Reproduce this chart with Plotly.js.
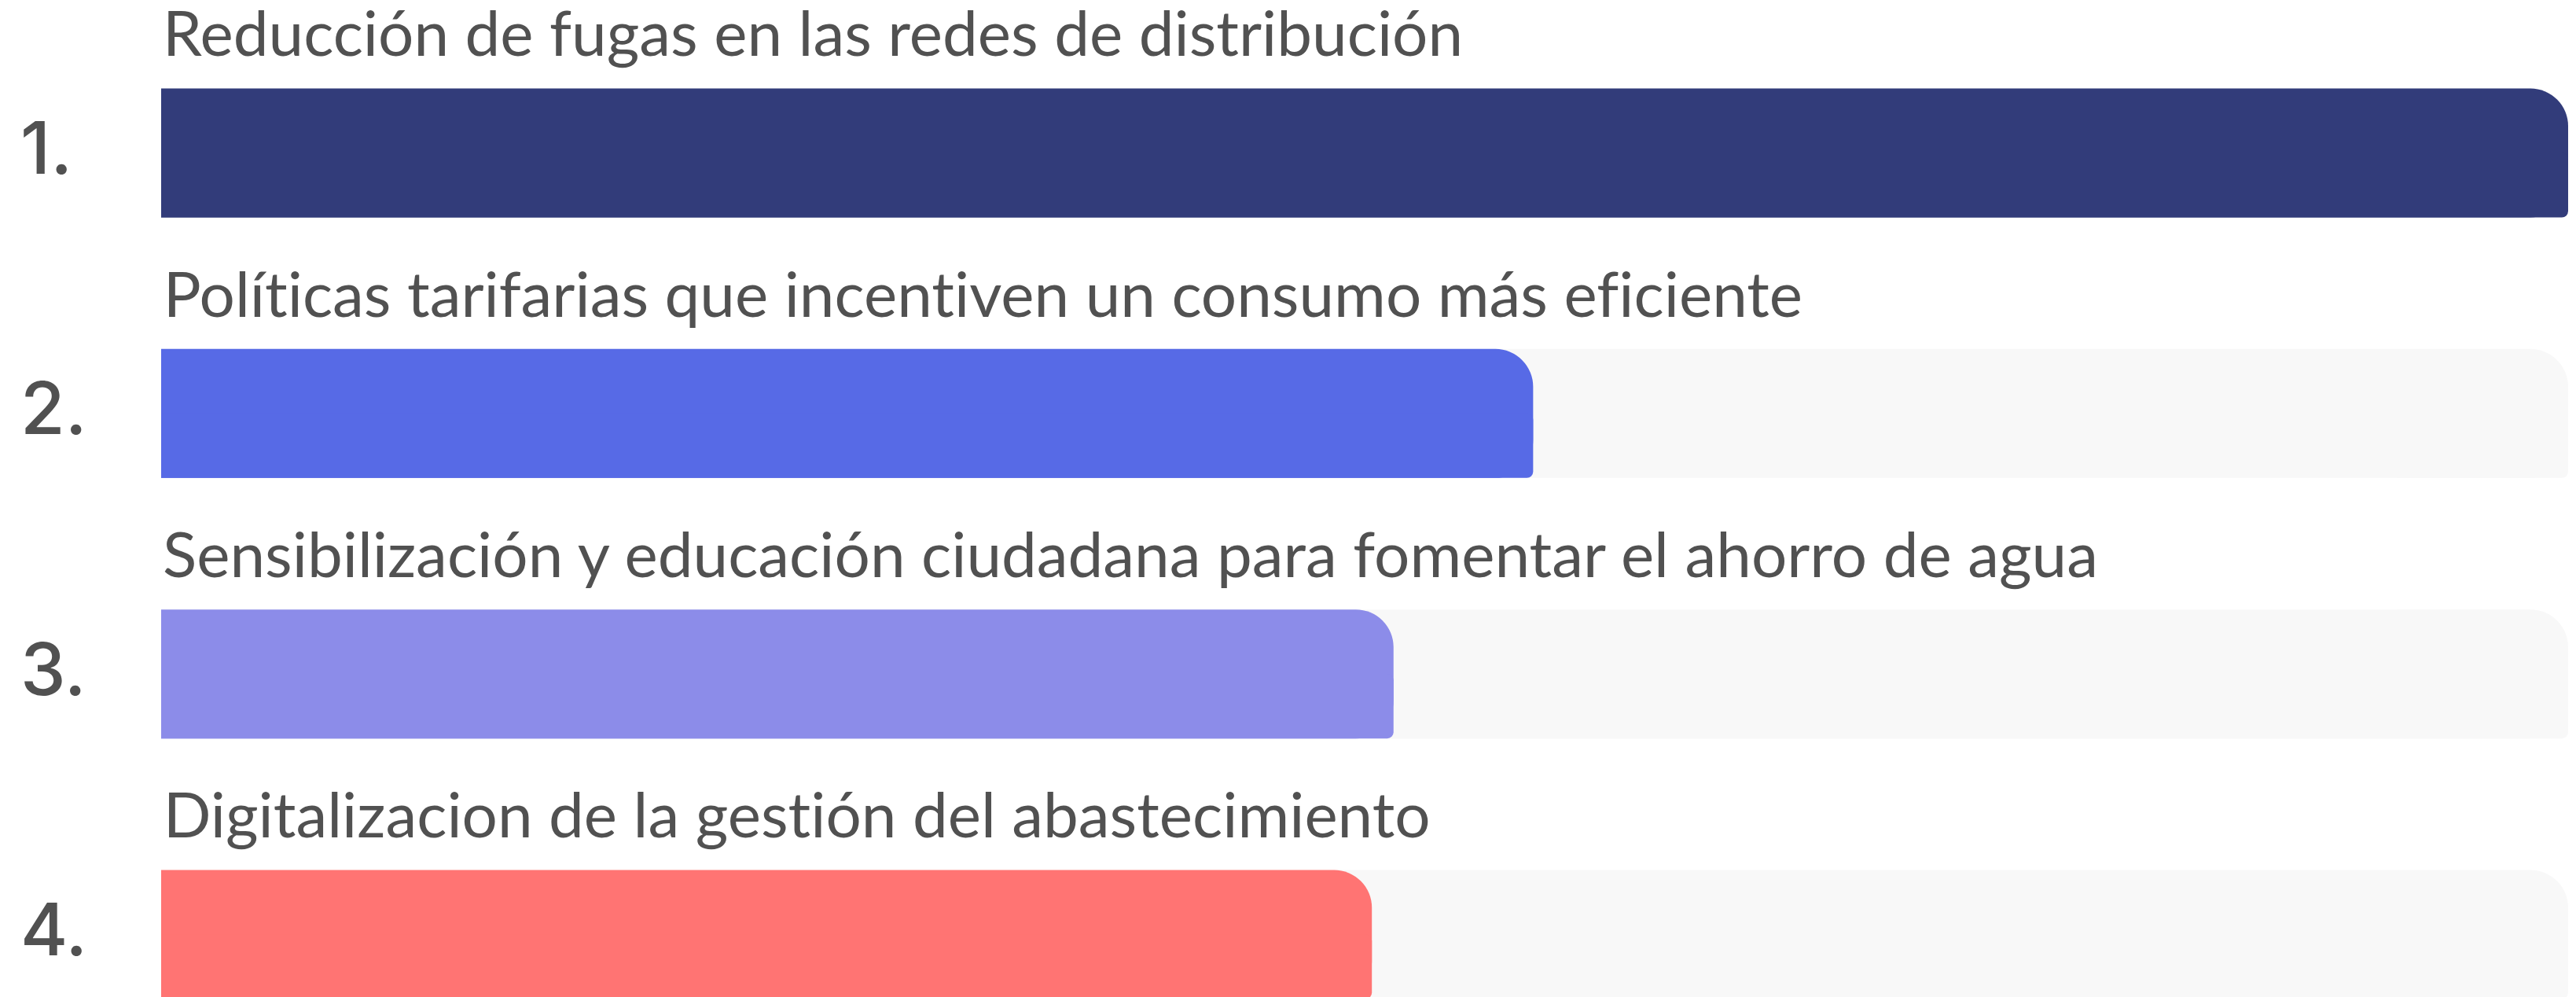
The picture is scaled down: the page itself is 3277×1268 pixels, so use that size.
<!DOCTYPE html>
<html>
<head>
<meta charset="utf-8">
<script src="https://cdn.plot.ly/plotly-3.0.1.min.js"></script>
<style>
  html, body { margin: 0; padding: 0; background: #fff; }
  #chart { width: 3277px; height: 1268px; }
  #chart text {
    font-variant-ligatures: none !important;
    font-feature-settings: "liga" 0, "clig" 0, "calt" 0, "dlig" 0 !important;
  }
</style>
</head>
<body>
<div id="chart"></div>
<script>
const ranks = [1, 2, 3, 4];
const labels = [
  'Reducción de fugas en las redes de distribución',
  'Políticas tarifarias que incentiven un consumo más eficiente',
  'Sensibilización y educación ciudadana para fomentar el ahorro de agua',
  'Digitalizacion de la gestión del abastecimiento'
];
const values = [100, 57, 51.2, 50.3];
const trackMax = [100, 100, 100, 100];
const barColors = ['#323c7a', '#576ae6', '#8c8ce9', '#ff7473'];

const textColor = '#515151';
const barW = 0.495;      // bar thickness in category units
const bigRadius = 48;    // top right corner
const smallRadius = 8;   // bottom right corner

// full bar with a big corner radius, then its lower half again with a small
// radius so the bottom right corner stays almost square
function barPair(xs, colors, xaxis) {
  return [
    {type: 'bar', orientation: 'h', x: xs, y: ranks, width: barW, offset: -barW / 2, xaxis: xaxis,
     marker: {color: colors, cornerradius: bigRadius, line: {width: 0}}, hoverinfo: 'skip'},
    {type: 'bar', orientation: 'h', x: xs, y: ranks, width: barW / 2, offset: 0, xaxis: xaxis,
     marker: {color: colors, cornerradius: smallRadius, line: {width: 0}}, hoverinfo: 'skip'}
  ];
}

// grey tracks on x, coloured bars on x2 (separate subplot so the tracks
// don't stop the rounding of the shorter bars)
const data = [
  ...barPair(trackMax, trackMax.map(() => '#f8f8f8'), 'x'),
  ...barPair(values, barColors, 'x2')
];

const annotations = [];
ranks.forEach((r, i) => {
  annotations.push({
    text: labels[i], x: 0, y: r - barW / 2, xref: 'x', yref: 'y',
    xanchor: 'left', yanchor: 'bottom', yshift: 22, showarrow: false,
    font: {family: 'Lato', size: 80, color: textColor}
  });
  annotations.push({
    text: r + '.', x: -205 / 3062, y: r, xref: 'paper', yref: 'y',
    xanchor: 'left', yanchor: 'middle', xshift: 24, yshift: 7, showarrow: false,
    font: {family: 'Inter', size: 92, weight: 500, color: textColor}
  });
});

const layout = {
  width: 3277, height: 1268,
  margin: {l: 205, r: 10, t: 0, b: 0},
  paper_bgcolor: '#ffffff', plot_bgcolor: '#ffffff',
  barmode: 'overlay', showlegend: false,
  xaxis: {range: [0, 100], visible: false, fixedrange: true},
  xaxis2: {range: [0, 100], visible: false, fixedrange: true, overlaying: 'x'},
  yaxis: {range: [ranks[0] + 3.24, ranks[0] - 0.587], visible: false, fixedrange: true},
  annotations: annotations
};

Plotly.newPlot('chart', data, layout, {staticPlot: true});
</script>
</body>
</html>
